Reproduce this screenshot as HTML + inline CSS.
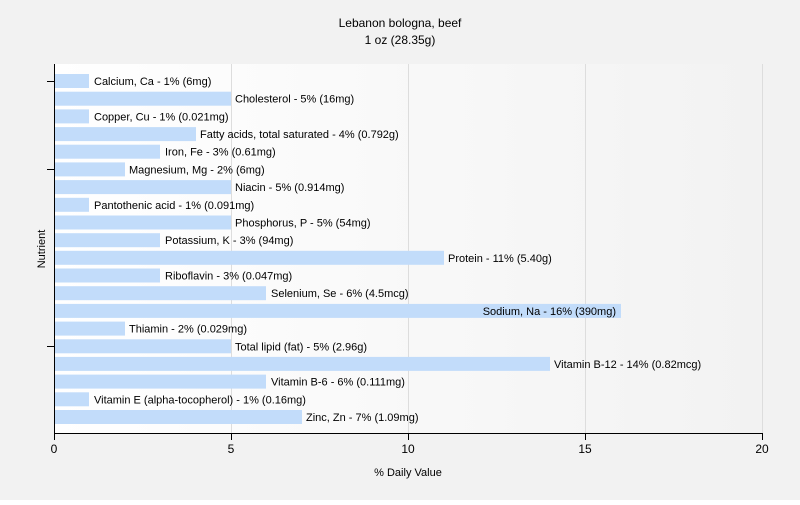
<!DOCTYPE html><html><head><style>body{margin:0}</style></head><body>
<svg width="800" height="500" xmlns="http://www.w3.org/2000/svg" font-family="Liberation Sans, sans-serif">
<defs><linearGradient id="g" x1="0" x2="1" y1="0" y2="0"><stop offset="0" stop-color="#ffffff"/><stop offset="1" stop-color="#f2f2f2"/></linearGradient></defs>
<rect width="800" height="500" fill="#f2f2f2"/>
<rect x="54" y="64" width="709" height="370" fill="url(#g)"/>
<g stroke="#dddddd" stroke-width="1">
<line x1="231.5" y1="64" x2="231.5" y2="434"/><line x1="408.5" y1="64" x2="408.5" y2="434"/><line x1="585.5" y1="64" x2="585.5" y2="434"/><line x1="762.5" y1="64" x2="762.5" y2="434"/></g>
<text x="400" y="27" font-size="12" text-anchor="middle">Lebanon bologna, beef</text>
<text x="400" y="44" font-size="12" text-anchor="middle">1 oz (28.35g)</text>
<g font-size="11" fill="#000">
<script>/*static*/</script>
</g>
<g id="bars" font-size="11">
<rect x="55" y="74" width="34" height="14" fill="#c2dcfa"/><text x="94" y="85">Calcium, Ca - 1% (6mg)</text>
<rect x="55" y="91.7" width="176" height="14" fill="#c2dcfa"/><text x="235" y="102.7">Cholesterol - 5% (16mg)</text>
<rect x="55" y="109.4" width="34" height="14" fill="#c2dcfa"/><text x="94" y="120.4">Copper, Cu - 1% (0.021mg)</text>
<rect x="55" y="127.1" width="141" height="14" fill="#c2dcfa"/><text x="200" y="138.1">Fatty acids, total saturated - 4% (0.792g)</text>
<rect x="55" y="144.7" width="105" height="14" fill="#c2dcfa"/><text x="165" y="155.7">Iron, Fe - 3% (0.61mg)</text>
<rect x="55" y="162.4" width="70" height="14" fill="#c2dcfa"/><text x="129" y="173.4">Magnesium, Mg - 2% (6mg)</text>
<rect x="55" y="180.1" width="176" height="14" fill="#c2dcfa"/><text x="235" y="191.1">Niacin - 5% (0.914mg)</text>
<rect x="55" y="197.8" width="34" height="14" fill="#c2dcfa"/><text x="94" y="208.8">Pantothenic acid - 1% (0.091mg)</text>
<rect x="55" y="215.5" width="176" height="14" fill="#c2dcfa"/><text x="235" y="226.5">Phosphorus, P - 5% (54mg)</text>
<rect x="55" y="233.2" width="105" height="14" fill="#c2dcfa"/><text x="165" y="244.2">Potassium, K - 3% (94mg)</text>
<rect x="55" y="250.8" width="389" height="14" fill="#c2dcfa"/><text x="448" y="261.8">Protein - 11% (5.40g)</text>
<rect x="55" y="268.5" width="105" height="14" fill="#c2dcfa"/><text x="165" y="279.5">Riboflavin - 3% (0.047mg)</text>
<rect x="55" y="286.2" width="211" height="14" fill="#c2dcfa"/><text x="271" y="297.2">Selenium, Se - 6% (4.5mcg)</text>
<rect x="55" y="303.9" width="566" height="14" fill="#c2dcfa"/><text x="616" y="314.9" text-anchor="end">Sodium, Na - 16% (390mg)</text>
<rect x="55" y="321.6" width="70" height="14" fill="#c2dcfa"/><text x="129" y="332.6">Thiamin - 2% (0.029mg)</text>
<rect x="55" y="339.3" width="176" height="14" fill="#c2dcfa"/><text x="235" y="350.3">Total lipid (fat) - 5% (2.96g)</text>
<rect x="55" y="356.9" width="495" height="14" fill="#c2dcfa"/><text x="554" y="367.9">Vitamin B-12 - 14% (0.82mcg)</text>
<rect x="55" y="374.6" width="211" height="14" fill="#c2dcfa"/><text x="271" y="385.6">Vitamin B-6 - 6% (0.111mg)</text>
<rect x="55" y="392.3" width="34" height="14" fill="#c2dcfa"/><text x="94" y="403.3">Vitamin E (alpha-tocopherol) - 1% (0.16mg)</text>
<rect x="55" y="410" width="247" height="14" fill="#c2dcfa"/><text x="306" y="421">Zinc, Zn - 7% (1.09mg)</text>
</g>
<g stroke="#000" stroke-width="1">
<line x1="54.5" y1="64" x2="54.5" y2="434"/>
<line x1="54" y1="433.5" x2="763" y2="433.5"/>
<line x1="47" y1="81.5" x2="54" y2="81.5"/><line x1="47" y1="169.5" x2="54" y2="169.5"/><line x1="47" y1="346.5" x2="54" y2="346.5"/>
<line x1="54.5" y1="434" x2="54.5" y2="440"/><line x1="231.5" y1="434" x2="231.5" y2="440"/><line x1="408.5" y1="434" x2="408.5" y2="440"/><line x1="585.5" y1="434" x2="585.5" y2="440"/><line x1="762.5" y1="434" x2="762.5" y2="440"/>
</g>
<g font-size="12" text-anchor="middle">
<text x="54" y="453">0</text><text x="231" y="453">5</text><text x="408" y="453">10</text><text x="585" y="453">15</text><text x="762" y="453">20</text>
</g>
<text x="408" y="476" font-size="11" text-anchor="middle">% Daily Value</text>
<text x="45" y="249" font-size="11" text-anchor="middle" transform="rotate(-90 45 249)">Nutrient</text>
</svg>
</body></html>
